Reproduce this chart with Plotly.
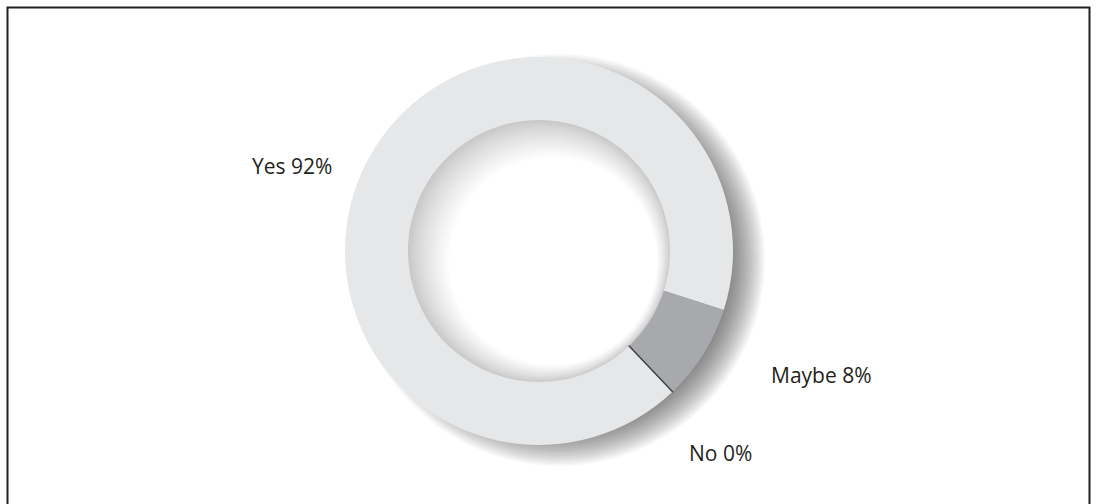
import plotly.graph_objects as go

labels = ["Yes", "Maybe", "No"]
values = [92, 8, 0]
colors = ["#e6e7e8", "#a7a9ac", "#414042"]

W, H = 1098, 504
cx, cy, R = 539, 251, 194   # donut centre and radius, px
hole = 0.675

fig = go.Figure()
fig.add_trace(go.Pie(
    labels=labels, values=values, hole=hole, sort=False,
    direction="clockwise", rotation=136.5, textinfo="none",
    hoverinfo="label+percent", showlegend=False,
    marker=dict(colors=colors,
                line=dict(color=["rgba(0,0,0,0)", "rgba(0,0,0,0)", "#414042"],
                          width=[0, 0, 1.5])),
    domain=dict(x=[(cx - R) / W, (cx + R) / W],
                y=[1 - (cy + R) / H, 1 - (cy - R) / H]),
))

ax, ay = cx / W, 1 - cy / H
shapes = []

def circle(dx, dy, r, fill):
    # pixel-sized circle anchored at the donut centre
    return dict(type="circle", xref="paper", yref="paper", layer="below",
                xsizemode="pixel", ysizemode="pixel", xanchor=ax, yanchor=ay,
                x0=dx - r, x1=dx + r, y0=-dy - r, y1=-dy + r,
                fillcolor=fill, line=dict(width=0))

# soft drop shadow, lower right
n = 22
for i in range(n):
    r = R + 12 - 34 * i / (n - 1)
    shapes.append(circle(20, 9, r, "rgba(40,40,40,0.03)"))

# bevel inside the hole
m = 24
for i in range(m + 1):
    t = i / m
    r = 132 - (132 - 104) * t
    g = int(198 + 57 * t ** 0.8)
    shapes.append(circle(14 * t, 10 * t, r, f"rgb({g},{g},{g})"))

# frame
shapes.append(dict(type="rect", xref="paper", yref="paper", layer="above",
                   x0=7.5 / W, x1=1089.5 / W, y0=-0.05, y1=1 - 7.5 / H,
                   line=dict(color="#231f20", width=2)))

label_pos = [(292, 166), (821, 375), (720, 453)]
annotations = []
for lab, v, (px, py) in zip(labels, values, label_pos):
    annotations.append(dict(text=f"{lab} {v}%", x=px / W, y=1 - py / H,
                            xref="paper", yref="paper", showarrow=False,
                            xanchor="center", yanchor="middle",
                            font=dict(size=21, color="#231f20")))

fig.update_layout(
    width=W, height=H, margin=dict(l=0, r=0, t=0, b=0),
    paper_bgcolor="white", plot_bgcolor="white",
    font=dict(family="Open Sans, sans-serif"),
    shapes=shapes, annotations=annotations,
)

fig.write_html("out.html", config={"displayModeBar": False},
               post_script="document.body.style.margin='0';")
